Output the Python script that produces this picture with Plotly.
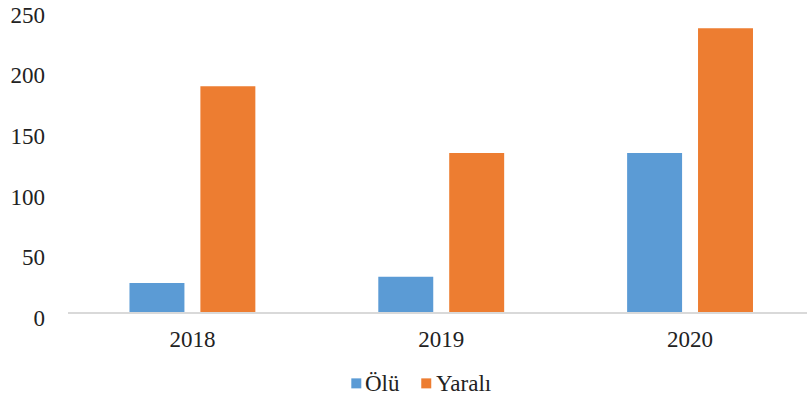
import plotly.graph_objects as go

# Yearly casualty counts
years = ["2018", "2019", "2020"]
olu = [24, 29, 131]        # Ölü (deaths)
yarali = [186, 131, 234]   # Yaralı (injured)

series_names = ["Ölü", "Yaralı"]
colors = ["#5B9BD5", "#ED7D31"]
y_ticks = [0, 50, 100, 150, 200, 250]

W, H = 807, 400
ML, MB, MT, MR = 67.5, 88.3, 0, 0
font_family = "Liberation Serif, Times New Roman, serif"
text_color = "#222222"
font_size = 23

fig = go.Figure()
for name, vals, col in zip(series_names, [olu, yarali], colors):
    fig.add_trace(go.Bar(x=years, y=vals, name=name, marker_color=col,
                         marker_line_width=0, showlegend=False))

fig.update_layout(
    width=W, height=H,
    margin=dict(l=ML, r=MR, t=MT, b=MB, pad=0),
    paper_bgcolor="white", plot_bgcolor="white",
    barmode="group", bargap=0.43, bargroupgap=0.225,
    font=dict(family=font_family, size=font_size, color=text_color),
)
fig.update_xaxes(
    type="category", range=[-0.5, 2.47],
    showline=True, linecolor="#D9D9D9", linewidth=1.5,
    showgrid=False, ticks="", ticklabelstandoff=6,
)
fig.update_yaxes(
    range=[0, 257.2], tickvals=y_ticks,
    showgrid=False, zeroline=False, showline=False,
    ticks="", ticklabelstandoff=22, ticklabelshift=6,
)

# Legend drawn below the plot: coloured square followed by the series name
plot_w = W - ML - MR
plot_h = H - MB - MT
def px_to_paper(px, py):
    return (px - ML) / plot_w, (H - MB - py) / plot_h

legend_items = [(351, 363), (421, 434)]
for (sq_x, txt_x), name, col in zip(legend_items, series_names, colors):
    x0, y0 = px_to_paper(sq_x, 388)
    x1, y1 = px_to_paper(sq_x + 10, 378)
    fig.add_shape(type="rect", xref="paper", yref="paper",
                  x0=x0, x1=x1, y0=y0, y1=y1,
                  fillcolor=col, line_width=0)
    tx, ty = px_to_paper(txt_x, 383)
    fig.add_annotation(text=name, xref="paper", yref="paper", x=tx, y=ty,
                       xanchor="left", yanchor="middle", showarrow=False,
                       font=dict(family=font_family, size=font_size, color=text_color))

fig.write_html("out.html")
